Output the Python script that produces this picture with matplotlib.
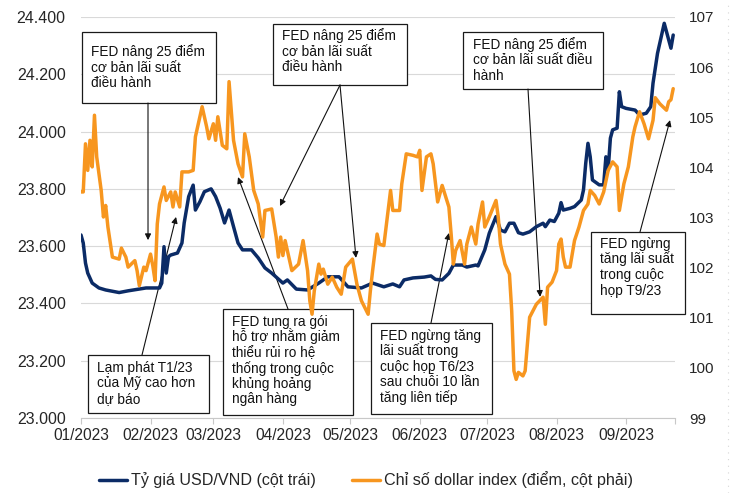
import matplotlib
matplotlib.use("Agg")
import matplotlib.pyplot as plt
import matplotlib.dates as mdates
from matplotlib.patches import Rectangle
from matplotlib.lines import Line2D
from matplotlib.ticker import FuncFormatter, MultipleLocator, FixedLocator
import pandas as pd

plt.rcParams['font.family'] = ['Liberation Sans', 'DejaVu Sans']

# ---------------- data ----------------
usd_dates = [
    "2023-01-01", "2023-01-02", "2023-01-03", "2023-01-04", "2023-01-06", "2023-01-09",
    "2023-01-12", "2023-01-18", "2023-01-22", "2023-01-30", "2023-02-05", "2023-02-06",
    "2023-02-07", "2023-02-08", "2023-02-09", "2023-02-10", "2023-02-13", "2023-02-15",
    "2023-02-16", "2023-02-18", "2023-02-20", "2023-02-21", "2023-02-23", "2023-02-25",
    "2023-02-28", "2023-03-02", "2023-03-04", "2023-03-06", "2023-03-08", "2023-03-10",
    "2023-03-12", "2023-03-14", "2023-03-18", "2023-03-21", "2023-03-24", "2023-03-27",
    "2023-04-01", "2023-04-03", "2023-04-07", "2023-04-12", "2023-04-17", "2023-04-21",
    "2023-04-26", "2023-04-30", "2023-05-06", "2023-05-11", "2023-05-16", "2023-05-20",
    "2023-05-23", "2023-05-25", "2023-05-29", "2023-06-03", "2023-06-06", "2023-06-08",
    "2023-06-11", "2023-06-14", "2023-06-16", "2023-06-20", "2023-06-22", "2023-06-26",
    "2023-06-27", "2023-06-30", "2023-07-02", "2023-07-05", "2023-07-07", "2023-07-09",
    "2023-07-11", "2023-07-13", "2023-07-15", "2023-07-17", "2023-07-20", "2023-07-23",
    "2023-07-26", "2023-07-27", "2023-07-29", "2023-07-31", "2023-08-02", "2023-08-03",
    "2023-08-04", "2023-08-07", "2023-08-09", "2023-08-12", "2023-08-13", "2023-08-14",
    "2023-08-15", "2023-08-16", "2023-08-17", "2023-08-20", "2023-08-22", "2023-08-23",
    "2023-08-24", "2023-08-25", "2023-08-26", "2023-08-28", "2023-08-29", "2023-08-30",
    "2023-09-01", "2023-09-05", "2023-09-07", "2023-09-10", "2023-09-12", "2023-09-13",
    "2023-09-15", "2023-09-17", "2023-09-18", "2023-09-20", "2023-09-21", "2023-09-22",
]
usd_values = [
    23639, 23611, 23541, 23506, 23471, 23454,
    23447, 23438, 23444, 23454, 23454, 23471,
    23598, 23506, 23563, 23569, 23576, 23611,
    23681, 23773, 23813, 23726, 23755, 23790,
    23800, 23773, 23733, 23681, 23726, 23668,
    23611, 23587, 23587, 23559, 23524, 23506,
    23471, 23482, 23450, 23447, 23471, 23493,
    23493, 23458, 23454, 23471, 23458, 23468,
    23458, 23482, 23489, 23492, 23496, 23484,
    23482, 23505, 23534, 23534, 23527, 23534,
    23531, 23587, 23645, 23703, 23656, 23650,
    23680, 23680, 23647, 23642, 23650, 23668,
    23680, 23668, 23691, 23686, 23715, 23752,
    23726, 23732, 23738, 23761, 23796, 23889,
    23959, 23912, 23831, 23814, 23814, 23912,
    23866, 23977, 24006, 24012, 24139, 24087,
    24081, 24075, 24058, 24064, 24087, 24169,
    24273, 24343, 24378, 24320, 24291, 24337,
]

dxy_dates = [
    "2023-01-01", "2023-01-02", "2023-01-03", "2023-01-04", "2023-01-05", "2023-01-06",
    "2023-01-07", "2023-01-08", "2023-01-10", "2023-01-11", "2023-01-12", "2023-01-13",
    "2023-01-15", "2023-01-18", "2023-01-19", "2023-01-21", "2023-01-22", "2023-01-25",
    "2023-01-26", "2023-01-27", "2023-01-29", "2023-01-30", "2023-02-01", "2023-02-02",
    "2023-02-03", "2023-02-04", "2023-02-05", "2023-02-07", "2023-02-08", "2023-02-10",
    "2023-02-11", "2023-02-12", "2023-02-14", "2023-02-15", "2023-02-18", "2023-02-20",
    "2023-02-21", "2023-02-24", "2023-02-26", "2023-02-27", "2023-03-01", "2023-03-02",
    "2023-03-03", "2023-03-05", "2023-03-07", "2023-03-08", "2023-03-10", "2023-03-12",
    "2023-03-14", "2023-03-15", "2023-03-17", "2023-03-19", "2023-03-21", "2023-03-23",
    "2023-03-24", "2023-03-27", "2023-03-29", "2023-03-30", "2023-03-31", "2023-04-01",
    "2023-04-02", "2023-04-05", "2023-04-08", "2023-04-10", "2023-04-12", "2023-04-13",
    "2023-04-14", "2023-04-15", "2023-04-17", "2023-04-18", "2023-04-19", "2023-04-21",
    "2023-04-23", "2023-04-25", "2023-04-27", "2023-04-29", "2023-05-02", "2023-05-04",
    "2023-05-06", "2023-05-09", "2023-05-10", "2023-05-11", "2023-05-13", "2023-05-14",
    "2023-05-16", "2023-05-19", "2023-05-20", "2023-05-23", "2023-05-24", "2023-05-26",
    "2023-05-29", "2023-05-31", "2023-06-01", "2023-06-02", "2023-06-04", "2023-06-06",
    "2023-06-07", "2023-06-09", "2023-06-11", "2023-06-14", "2023-06-15", "2023-06-16",
    "2023-06-17", "2023-06-19", "2023-06-21", "2023-06-22", "2023-06-24", "2023-06-26",
    "2023-06-27", "2023-06-29", "2023-06-30", "2023-07-02", "2023-07-05", "2023-07-06",
    "2023-07-07", "2023-07-09", "2023-07-11", "2023-07-12", "2023-07-13", "2023-07-14",
    "2023-07-15", "2023-07-17", "2023-07-18", "2023-07-19", "2023-07-20", "2023-07-23",
    "2023-07-26", "2023-07-27", "2023-07-28", "2023-07-30", "2023-08-01", "2023-08-02",
    "2023-08-03", "2023-08-04", "2023-08-05", "2023-08-07", "2023-08-09", "2023-08-11",
    "2023-08-13", "2023-08-15", "2023-08-16", "2023-08-18", "2023-08-20", "2023-08-22",
    "2023-08-24", "2023-08-26", "2023-08-28", "2023-08-29", "2023-08-31", "2023-09-02",
    "2023-09-04", "2023-09-05", "2023-09-07", "2023-09-09", "2023-09-11", "2023-09-13",
    "2023-09-14", "2023-09-16", "2023-09-19", "2023-09-20", "2023-09-21", "2023-09-22",
]
dxy_values = [
    103.51, 103.51, 104.47, 103.94, 104.54, 104.01,
    105.04, 104.21, 103.54, 103.01, 103.24, 102.81,
    102.21, 102.17, 102.39, 102.21, 102.01, 102.14,
    101.94, 101.64, 102.01, 101.94, 102.27, 102.04,
    101.74, 102.87, 103.27, 103.61, 103.34, 103.51,
    103.21, 103.51, 103.21, 103.91, 103.91, 103.94,
    104.61, 105.21, 104.81, 104.57, 104.87, 104.54,
    105.01, 104.44, 104.37, 105.71, 104.54, 104.07,
    103.81, 104.67, 104.21, 103.54, 103.27, 102.61,
    103.14, 103.17, 102.61, 102.21, 102.61, 102.24,
    102.54, 101.94, 102.07, 102.54, 101.94, 101.34,
    101.07, 101.54, 102.07, 101.87, 101.97, 101.67,
    101.81, 101.61, 101.47, 102.01, 102.17, 101.67,
    101.34, 101.07, 101.54, 101.94, 102.67, 102.47,
    102.44, 103.54, 103.14, 103.14, 103.67, 104.27,
    104.24, 104.21, 104.34, 103.54, 104.21, 104.27,
    104.07, 103.31, 103.64, 103.21, 102.67, 102.07,
    102.34, 102.54, 102.07, 102.47, 102.81, 102.47,
    102.87, 103.31, 102.81, 103.01, 103.34, 103.01,
    102.47, 102.07, 101.87, 101.14, 99.94, 99.77,
    99.91, 99.84, 99.94, 100.47, 101.01, 101.27,
    101.41, 100.87, 101.61, 101.71, 101.94, 102.47,
    102.57, 102.21, 102.01, 102.01, 102.54, 102.81,
    103.14, 103.27, 103.54, 103.44, 103.27, 103.51,
    103.94, 104.11, 104.01, 103.14, 103.67, 104.01,
    104.61, 104.81, 105.11, 104.87, 104.57, 104.94,
    105.39, 105.27, 105.14, 105.31, 105.35, 105.57,
]

legend_labels = ["Tỷ giá USD/VND (cột trái)", "Chỉ số dollar index (điểm, cột phải)"]

note_texts = [
    ["FED nâng 25 điểm", "cơ bản lãi suất", "điều hành"],
    ["FED nâng 25 điểm", "cơ bản lãi suất", "điều hành"],
    ["FED nâng 25 điểm", "cơ bản lãi suất điều", "hành"],
    ["FED ngừng", "tăng lãi suất", "trong cuộc", "họp T9/23"],
    ["Lạm phát T1/23", "của Mỹ cao hơn", "dự báo"],
    ["FED tung ra gói", "hỗ trợ nhằm giảm", "thiểu rủi ro hệ", "thống trong cuộc",
     "khủng hoảng", "ngân hàng"],
    ["FED ngừng tăng", "lãi suất trong", "cuộc họp T6/23", "sau chuỗi 10 lần",
     "tăng liên tiếp"],
]
# arrow targets (date, USD/VND level) for each note; note 2 has two arrows
arrow_targets = [
    [("2023-01-30 21:00", 23621)],
    [("2023-03-30 17:00", 23740), ("2023-05-03 14:00", 23559)],
    [("2023-07-24 16:00", 23423)],
    [("2023-09-20 14:00", 24040)],
    [("2023-02-12 09:00", 23702)],
    [("2023-03-12 00:00", 23841)],
    [("2023-06-14 00:00", 23646)],
]

# ---------------- layout (pixels, top-left origin) ----------------
W, H = 751, 493
boxes = [  # left, top, right, bottom, text_x, first_baseline, tail_x, tail_y
    (82, 32, 216, 103, 91, 56, 148, 103),
    (273, 24, 407, 85, 282, 40, 340, 85),
    (463, 32, 603, 89, 473, 49, 528, 89),
    (591, 232, 685, 314, 600, 248, 640, 232),
    (88, 355, 209, 413, 97, 372, 142, 355),
    (223, 309, 353, 415, 232, 326, 288, 309),
    (371, 323, 492, 414, 380, 340, 431, 323),
]
LINE_STEP = 15.5
NAVY = "#0b2b66"
ORANGE = "#f7961f"


def fx(x):
    return x / W


def fy(y):
    return 1 - y / H


fig = plt.figure(figsize=(W / 100, H / 100), dpi=100)
ax = fig.add_axes([fx(81), fy(418), 594 / W, 401 / H])
ax2 = ax.twinx()

l1, = ax.plot(pd.to_datetime(usd_dates), usd_values, color=NAVY, lw=2.5, zorder=3,
              solid_joinstyle='round', solid_capstyle='round')
l2, = ax2.plot(pd.to_datetime(dxy_dates), dxy_values, color=ORANGE, lw=2.5, zorder=3,
               solid_joinstyle='round', solid_capstyle='round')

x0 = pd.Timestamp("2023-01-01")
x1 = x0 + pd.Timedelta(days=264.8)
ax.set_xlim(x0, x1)
ax.set_ylim(23000, 24400)
ax2.set_ylim(99, 107)

ax.yaxis.set_major_locator(MultipleLocator(200))
ax.yaxis.set_major_formatter(FuncFormatter(lambda v, p: f"{v:,.0f}".replace(",", ".")))
ax2.yaxis.set_major_locator(MultipleLocator(1))
ax2.yaxis.set_major_formatter(FuncFormatter(lambda v, p: f"{v:.0f}"))
ax.xaxis.set_major_locator(mdates.MonthLocator())
ax.xaxis.set_major_formatter(mdates.DateFormatter("%m/%Y"))
ax.xaxis.set_minor_locator(FixedLocator([mdates.date2num(x1)]))

ax.grid(axis="y", color="#d9d9d9", lw=0.8)
ax.set_axisbelow(True)
for s in ["top", "left", "right"]:
    ax.spines[s].set_visible(False)
for s in ["top", "left", "right", "bottom"]:
    ax2.spines[s].set_visible(False)
ax.spines["bottom"].set_color("#c8c8c8")
ax.spines["bottom"].set_linewidth(0.8)

TXT = "#262626"
ax.tick_params(axis="x", which="both", length=4, width=0.8, color="#c8c8c8",
               labelsize=11.2, pad=3, labelcolor=TXT)
ax.tick_params(axis="y", length=0, labelsize=11.5, pad=11, labelcolor=TXT)
ax2.tick_params(axis="y", length=0, labelsize=11, pad=10, labelcolor=TXT)

# annotation boxes (drawn beneath the lines)
for (L, T, R, B, tx, by, ax_, ay_), lines, targets in zip(boxes, note_texts, arrow_targets):
    rect = Rectangle((fx(L), fy(B)), (R - L) / W, (B - T) / H, transform=fig.transFigure,
                     facecolor="white", edgecolor="#1a1a1a", lw=0.9, zorder=1.0,
                     clip_on=False)
    ax.add_artist(rect)
    for i, s in enumerate(lines):
        ax.text(fx(tx), fy(by + i * LINE_STEP), s, transform=fig.transFigure,
                ha="left", va="baseline", fontsize=9.8, color="#111111",
                zorder=1.1, clip_on=False)
    for d, v in targets:
        ax.annotate("", xy=(mdates.date2num(pd.Timestamp(d)), v), xycoords="data",
                    xytext=(fx(ax_), fy(ay_)), textcoords="figure fraction",
                    arrowprops=dict(arrowstyle="-|>", color="#111111", lw=0.8,
                                    shrinkA=0, shrinkB=0, mutation_scale=9),
                    zorder=1.5, annotation_clip=False)

fig.legend([l1, l2], legend_labels, loc="center", bbox_to_anchor=(fx(366), fy(480)),
           ncol=2, frameon=False, fontsize=11.6, handlelength=1.75, handletextpad=0.25,
           columnspacing=2.2, labelcolor=TXT)

fig.add_artist(Line2D([fx(728), fx(728)], [0, 1], transform=fig.transFigure,
                      color="#d6d6d6", lw=0.8, ls=(0, (1, 5))))

fig.savefig("out.png", dpi=100)
